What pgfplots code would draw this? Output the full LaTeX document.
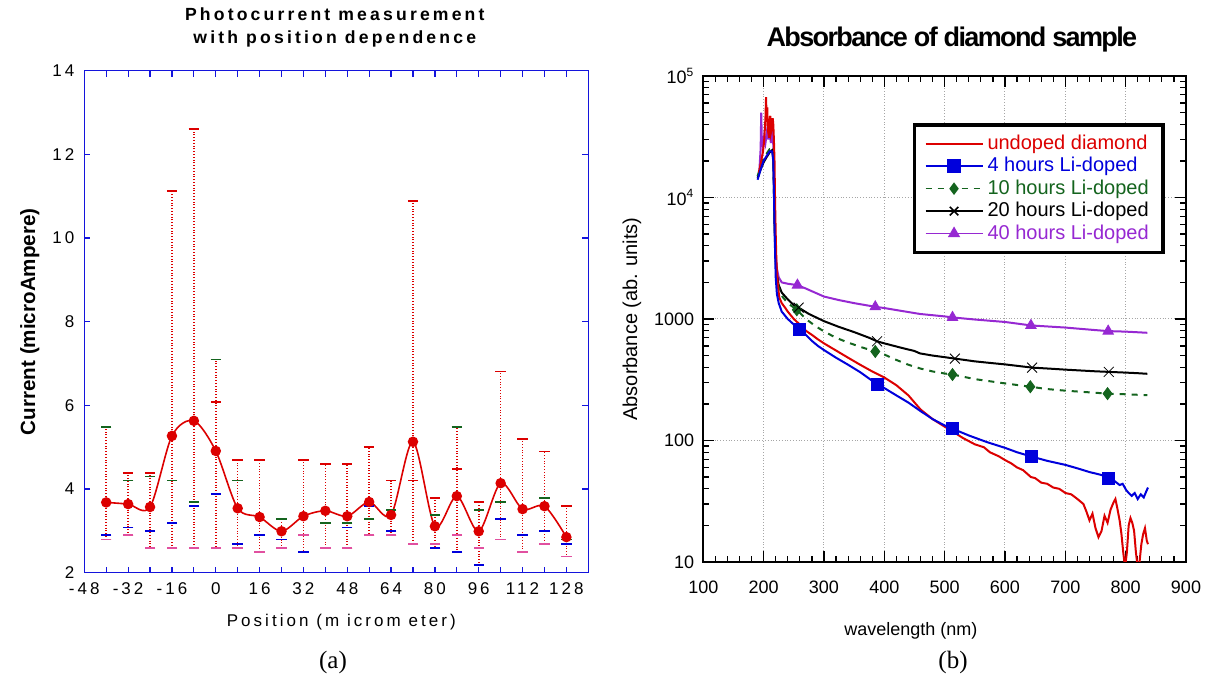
\documentclass[border=0pt]{standalone}
\usepackage{pgfplots}
\pgfplotsset{compat=1.18}
\usepackage{pgfplotstable}
\usepackage{fontspec}
\setmainfont{Liberation Sans}
\newfontfamily\timesfont{Liberation Serif}
\newfontfamily\spaced[LetterSpace=18]{Liberation Sans}
\definecolor{cRed}{RGB}{220,0,0}
\definecolor{cBlue}{RGB}{0,0,220}
\definecolor{cGreen}{RGB}{20,100,30}
\definecolor{cPurple}{RGB}{150,40,210}
\definecolor{cPink}{RGB}{225,80,160}
\definecolor{axBlue}{RGB}{20,20,220}
\pgfplotsset{every axis title shift=0pt}

% photocurrent: mean, min/max of the spread, single readings
\pgfplotstableread{
x    y     lo    hi     g     b     p     r
-40  3.68  2.79  5.48   5.48  2.90  2.79  nan
-32  3.64  2.90  4.38   4.20  3.08  2.90  nan
-24  3.57  2.59  4.38   4.30  2.99  2.59  nan
-16  5.27  2.59  11.12  4.20  3.19  2.59  nan
-8   5.63  2.59  12.61  3.69  3.60  2.59  nan
0    4.91  2.59  7.10   7.10  3.88  2.59  6.08
8    3.54  2.59  4.70   4.20  2.69  2.59  nan
16   3.33  2.50  4.70   nan   2.90  2.50  nan
24   2.99  2.59  3.29   3.29  2.79  2.59  nan
32   3.35  2.50  4.70   nan   2.50  2.90  nan
40   3.48  2.59  4.60   3.19  nan   2.59  nan
48   3.35  2.59  4.60   3.19  3.08  2.59  nan
56   3.69  2.90  5.00   3.29  3.60  2.90  nan
64   3.38  2.90  4.20   3.50  2.99  2.90  nan
72   5.13  2.69  10.88  nan   nan   2.69  4.20
80   3.11  2.59  3.78   3.38  2.59  2.69  nan
88   3.83  2.50  5.48   5.48  2.50  2.90  4.48
96   2.99  2.18  3.69   3.50  2.18  2.59  nan
104  4.14  2.79  6.81   3.69  3.29  2.79  nan
112  3.52  2.50  5.20   nan   2.90  2.50  nan
120  3.59  2.69  4.90   3.78  2.99  2.69  nan
128  2.85  2.39  3.59   2.79  2.69  2.39  nan
}\curdata

\begin{document}
\begin{tikzpicture}
\useasboundingbox (0,0) rectangle (602.5pt,342pt);

% ---------------- (a) ----------------
\begin{axis}[
  at={(42.15pt,55.65pt)}, anchor=south west,
  scale only axis, width=252pt, height=251pt,
  xmin=-48, xmax=136, ymin=2, ymax=14,
  xtick={-48,-32,...,128}, minor xtick={-40,-24,...,136},
  ytick={2,4,...,14},
  tick align=inside, major tick length=3pt, minor tick length=3pt,
  axis line style={axBlue, line width=0.6pt},
  every tick/.style={axBlue, line width=0.6pt},
  every minor tick/.style={axBlue, line width=0.6pt},
  /pgf/number format/assume math mode=true,
  ticklabel style={font=\spaced\fontsize{8.5}{10}\selectfont},
  xticklabel style={yshift=-1.5pt},
  yticklabel style={xshift=-1.5pt},
  title={Photocurrent measurement\\ with position dependence},
  title style={at={(axis description cs:0.497,1.086)}, anchor=center, align=center,
    font=\spaced\bfseries\fontsize{8.8}{11.5}\selectfont},
  xlabel={Position (m icrom eter)},
  xlabel style={at={(axis description cs:0.51,-0.098)}, anchor=center,
    font=\spaced\fontsize{8.5}{10}\selectfont},
  ylabel={Current (microAmpere)},
  ylabel style={at={(axis description cs:-0.108,0.5)}, anchor=center,
    font=\bfseries\fontsize{10.3}{12}\selectfont},
]
\addplot[cRed, only marks, mark=none,
  error bars/.cd, y dir=both, y explicit,
  error bar style={cRed, densely dotted, line width=0.8pt},
  error mark options={cRed, solid, line width=0.8pt, mark size=2.6pt, rotate=90}]
  table[x=x, y=y, y error plus expr=\thisrow{hi}-\thisrow{y},
        y error minus expr=\thisrow{y}-\thisrow{lo}] {\curdata};
\addplot[only marks, mark=-, mark size=2.6pt, cGreen, mark options={line width=0.8pt}]
  table[x=x, y=g] {\curdata};
\addplot[only marks, mark=-, mark size=2.6pt, cBlue, mark options={line width=0.8pt}]
  table[x=x, y=b] {\curdata};
\addplot[only marks, mark=-, mark size=2.6pt, cPink, mark options={line width=0.8pt}]
  table[x=x, y=p] {\curdata};
\addplot[only marks, mark=-, mark size=2.6pt, cRed, mark options={line width=0.8pt}]
  table[x=x, y=r] {\curdata};
\addplot[cRed, smooth, line width=0.8pt, mark=*, mark size=2.2pt]
  table[x=x, y=y] {\curdata};
\end{axis}

% ---------------- (b) ----------------
\begin{axis}[
  at={(351.65pt,61pt)}, anchor=south west,
  scale only axis, width=241.35pt, height=243pt,
  xmin=100, xmax=900, ymin=10, ymax=100000, ymode=log,
  xtick={100,200,...,900}, minor x tick num=4,
  ytick={10,100,1000,10000,100000},
  yticklabels={10,100,1000,10\textsuperscript{4},10\textsuperscript{5}},
  minor ytick={20,30,40,50,60,70,80,90,200,300,400,500,600,700,800,900,
    2000,3000,4000,5000,6000,7000,8000,9000,20000,30000,40000,50000,60000,70000,80000,90000},
  grid=major, major grid style={gray!70, densely dotted, line width=0.5pt},
  tick align=inside, major tick length=5.5pt, minor tick length=3pt,
  axis line style={line width=1pt},
  every tick/.style={black, line width=0.6pt},
  every minor tick/.style={black, line width=0.6pt},
  /pgf/number format/assume math mode=true,
  ticklabel style={font=\fontsize{9}{10}\selectfont},
  xticklabel style={yshift=-6pt},
  yticklabel style={xshift=-1pt},
  title={Absorbance of diamond sample},
  title style={at={(axis description cs:0.515,1.074)}, anchor=center,
    font=\addfontfeatures{LetterSpace=-6}\bfseries\fontsize{13.5}{15}\selectfont},
  xlabel={wavelength (nm)},
  xlabel style={at={(axis description cs:0.43,-0.142)}, anchor=center,
    font=\fontsize{9}{10}\selectfont},
  ylabel={Absorbance (ab. units)},
  ylabel style={at={(axis description cs:-0.148,0.5)}, anchor=center,
    font=\fontsize{10}{12}\selectfont},
  legend style={at={(0.434,0.903)}, anchor=north west, draw=black, line width=1.8pt,
    fill=white, font=\fontsize{10}{11}\selectfont, row sep=-1.5pt,
    inner xsep=5pt, inner ysep=3pt},
  legend cell align=left,
  legend image code/.code={\draw[mark repeat=2,mark phase=2]
    plot coordinates {(0cm,0cm)(0.5cm,0cm)(1cm,0cm)};},
]
\addplot[cPurple, line width=1pt, forget plot] coordinates {
(193,17000)(195,25000)(196,50000)(197,30000)(199,26000)(201,32000)(203,28000)(205,33000)
(207,40000)(208,30000)(210,35000)(212,28000)(214,40000)(215,32000)(216,27000)(217,15000)
(218,8000)(219,5000)(220,3500)(222,2600)(225,2200)(230,2000)(240,1950)(256,1900)(270,1780)
(285,1650)(300,1530)(325,1430)(350,1350)(385,1260)(400,1230)(459,1100)(500,1050)(513,1030)
(550,990)(600,945)(643,885)(700,850)(750,810)(771,795)(800,787)(836,770)};
\addplot[black, line width=1pt, forget plot] coordinates {
(190,14500)(195,17000)(200,19500)(205,21500)(210,23500)(214,24500)(216,23000)(217,12000)
(218,6000)(219,4000)(220,3000)(222,2300)(225,1900)(230,1650)(240,1450)(250,1300)(258,1240)
(275,1100)(300,960)(325,860)(350,780)(375,700)(388,655)(400,630)(425,585)(450,545)(459,521)
(480,500)(500,485)(517,472)(550,448)(575,435)(600,423)(645,398)(675,390)(700,383)(725,377)
(750,371)(772,367)(800,362)(820,358)(836,354)};
\addplot[cGreen, line width=1pt, dashed, forget plot] coordinates {
(190,15000)(195,18000)(200,21000)(205,23000)(210,25000)(214,25000)(216,21000)(217,12000)
(218,7000)(219,4500)(220,3000)(222,2200)(225,1800)(230,1550)(240,1350)(255,1190)(270,1000)
(285,880)(300,790)(320,700)(340,640)(360,590)(385,540)(400,510)(420,460)(440,420)(459,392)
(480,370)(500,356)(513,349)(550,320)(600,295)(642,277)(670,265)(700,257)(735,250)(770,243)
(800,240)(836,236)};
\addplot[cRed, line width=1pt, forget plot] coordinates {
(192,16000)(196,20000)(199,24000)(201,30000)(203,45000)(204,67000)(205,42000)(206,55000)
(207,36000)(209,31000)(210,42000)(211,47000)(212,34000)(214,38000)(215,45000)(216,40000)
(217,30000)(218,20000)(219,9000)(220,5000)(221,3200)(222,2400)(224,1800)(226,1500)(230,1350)
(235,1250)(240,1150)(250,1000)(260,900)(270,800)(280,740)(290,680)(300,630)(320,550)(340,480)
(360,420)(380,370)(400,330)(420,285)(440,235)(460,180)(480,150)(500,130)(513,119)(530,105)
(550,93)(565,88)(575,80)(590,74)(600,69)(610,65)(620,60)(630,57)(643,50)(650,49)(660,45)
(670,44)(680,41)(690,40)(700,37)(710,36)(720,33)(730,30)
(735,26)(740,22)(745,25)(750,19)(755,16)(760,18)(765,24)(770,21)(775,27)(780,31)(783,33)
(786,28)(790,22)(793,17)(796,12)(799,9)(802,12)(805,20)(808,23)(811,21)(814,18)(817,12)
(820,9)(823,10)(826,14)(829,17)(832,19)(835,15)(837,14)};
\addplot[cBlue, line width=1pt, forget plot] coordinates {
(190,14000)(195,17000)(200,20000)(205,22000)(210,24000)(214,24000)(216,20000)(217,11000)
(218,6000)(219,3500)(220,2200)(222,1600)(225,1350)(230,1150)(240,1000)(250,900)(260,826)
(270,740)(280,660)(290,600)(300,555)(320,480)(340,420)(360,365)(380,310)(400,270)(420,235)
(440,205)(459,176)(480,150)(500,133)(513,125)(540,110)(570,97)(600,87)(620,80)(643,74)
(670,68)(700,63)(720,59)(740,55)(760,52)(771,49)(780,47)(790,43)(795,44)(801,39)(805,37)
(810,35)(815,37)(820,33)(825,36)(830,34)(834,38)(837,41)};
% big markers
\addplot[only marks, cBlue, mark=square*, mark size=3pt, forget plot] coordinates {
(260,826)(388,290)(513,125)(643,74)(771,49)};
\addplot[only marks, cGreen, mark=diamond*, mark size=3pt, forget plot] coordinates {
(255,1190)(385,540)(513,349)(642,277)(770,243)};
\addplot[only marks, black, mark=x, mark size=3.5pt, forget plot] coordinates {
(258,1240)(388,655)(517,472)(645,398)(772,367)};
\addplot[only marks, cPurple, mark=triangle*, mark size=3pt, forget plot] coordinates {
(256,1900)(385,1260)(513,1030)(643,885)(771,795)};

\addlegendimage{draw=cRed, color=cRed, line width=1pt}
\addlegendentry{\textcolor{cRed}{undoped diamond}}
\addlegendimage{cBlue, line width=0.8pt, mark=square*, mark size=3pt}
\addlegendentry{\textcolor{cBlue}{4 hours Li-doped}}
\addlegendimage{cGreen, line width=0.8pt, dashed, mark=diamond*, mark size=2.5pt, mark options={solid}}
\addlegendentry{\textcolor{cGreen}{10 hours Li-doped}}
\addlegendimage{black, line width=0.8pt, mark=x, mark size=3pt}
\addlegendentry{\textcolor{black}{20 hours Li-doped}}
\addlegendimage{cPurple, line width=0.8pt, mark=triangle*, mark size=2.8pt}
\addlegendentry{\textcolor{cPurple}{40 hours Li-doped}}
\end{axis}

\node[font=\timesfont\fontsize{12.5}{14}\selectfont] at (166.5pt,11pt) {(a)};
\node[font=\timesfont\fontsize{12.5}{14}\selectfont] at (476.5pt,11pt) {(b)};
\end{tikzpicture}
\end{document}
